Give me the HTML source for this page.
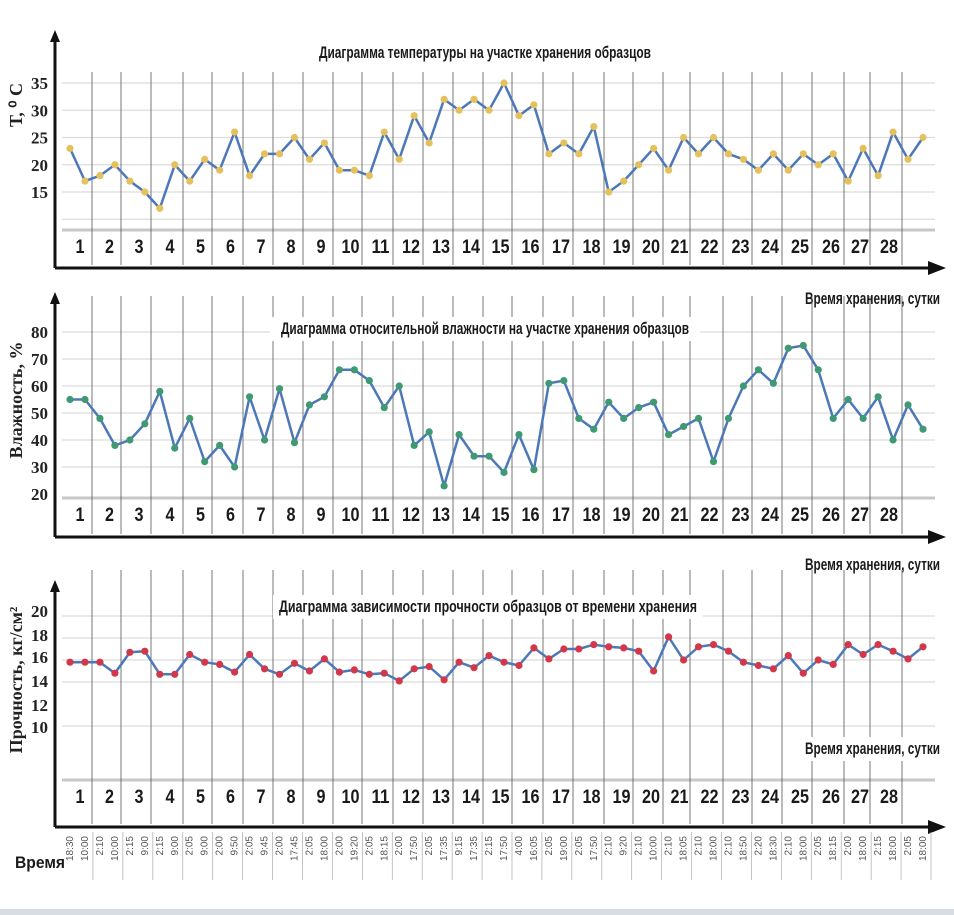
<!DOCTYPE html>
<html><head><meta charset="utf-8"><style>
html,body{margin:0;padding:0;background:#fff;}
svg{display:block;}
text{font-family:"Liberation Sans","DejaVu Sans",sans-serif;}
.tit{font-family:"Liberation Sans",sans-serif;font-weight:bold;font-size:17px;fill:#1a1a1a;}
.tick{font-family:"Liberation Serif",serif;font-weight:bold;font-size:17px;fill:#222;}
.day{font-family:"Liberation Sans",sans-serif;font-weight:bold;font-size:19px;fill:#1a1a1a;}
.ylab{font-family:"Liberation Serif",serif;font-weight:bold;font-size:18px;fill:#222;}
.tm{font-family:"Liberation Sans",sans-serif;font-size:10px;fill:#555;}
</style></head><body>
<svg id="c" width="954" height="915" viewBox="0 0 954 915" xmlns="http://www.w3.org/2000/svg">
<rect x="0" y="0" width="954" height="915" fill="#fff"/>
<rect x="0" y="909" width="954" height="6" fill="#d8dde3"/>
</svg>
<script>
const days = ["1","2","3","4","5","6","7","8","9","10","11","12","13","14","15","16","17","18","19","20","21","22","23","24","25","26","27","28"];
const temperature = [23,17,18,20,17,15,12,20,17,21,19,26,18,22,22,25,21,24,19,19,18,26,21,29,24,32,30,32,30,35,29,31,22,24,22,27,15,17,20,23,19,25,22,25,22,21,19,22,19,22,20,22,17,23,18,26,21,25];
const humidity = [55,55,48,38,40,46,58,37,48,32,38,30,56,40,59,39,53,56,66,66,62,52,60,38,43,23,42,34,34,28,42,29,61,62,48,44,54,48,52,54,42,45,48,32,48,60,66,61,74,75,66,48,55,48,56,40,53,44];
const strength = [15.8,15.8,15.8,14.8,16.7,16.8,14.7,14.7,16.5,15.8,15.6,14.9,16.5,15.2,14.7,15.7,15.0,16.1,14.9,15.1,14.7,14.8,14.1,15.2,15.4,14.2,15.8,15.3,16.4,15.8,15.5,17.1,16.1,17.0,17.0,17.4,17.2,17.1,16.8,15.0,18.1,16.0,17.2,17.4,16.8,15.8,15.5,15.2,16.4,14.8,16.0,15.6,17.4,16.5,17.4,16.8,16.1,17.2];
const times = ["18:30","10:00","2:10","10:00","2:15","9:00","2:15","9:00","2:05","9:00","2:00","9:50","2:05","9:45","2:00","17:45","2:05","18:00","2:00","19:20","2:05","18:15","2:00","17:50","2:05","17:35","9:15","17:35","2:15","17:50","4:00","16:05","2:05","19:00","2:05","17:50","2:10","9:20","2:10","10:00","2:10","18:05","2:10","18:00","2:10","18:50","2:20","18:30","2:10","18:00","2:05","18:15","2:00","18:00","2:15","18:00","2:05","18:00"];
const tempTicks = [35,30,25,20,15];
const humTicks = [80,70,60,50,40,30,20];
const strTicks = [20,18,16,14,12,10];

const svg = document.getElementById('c');
const NS = 'http://www.w3.org/2000/svg';
function mk(tag, attrs, parent){const e=document.createElementNS(NS,tag);for(const k in attrs)e.setAttribute(k,attrs[k]);(parent||svg).appendChild(e);return e;}
const dayB = [62,92,121,151,183,212,243,273,303,333,362,393,423,453,483,512,543,573,604,633,663,690,723,752,782,812,844,870,902];
const x0 = 70, x1 = 923;
function xs(i, n){return x0 + i*(x1-x0)/(n-1);}

function panel(cfg){
  const g = mk('g',{});
  
  
  cfg.grid.forEach(v=>{const l=mk('line',{x1:62,x2:935,y1:cfg.y(v),y2:cfg.y(v),stroke:'#dcdcdc','stroke-width':1.2},g);});
  const b=mk('line',{x1:62,x2:935,y1:cfg.band,y2:cfg.band,stroke:'#c8c8c8','stroke-width':3},g);
  dayB.slice(1).forEach(x=>{const l=mk('line',{x1:x,x2:x,y1:cfg.vTop,y2:cfg.axisY-3,stroke:'#555','stroke-width':0.8},g);});
  days.forEach((d,i)=>{const t=mk('text',{x:(dayB[i]+dayB[i+1])/2+3,y:cfg.band+23,'text-anchor':'middle',class:'day',textLength:d.length*9,lengthAdjust:'spacingAndGlyphs'},g);t.textContent=d;});
  cfg.ticks.forEach(v=>{const t=mk('text',{x:48,y:cfg.tickY(v)+6,'text-anchor':'end',class:'tick'},g);t.textContent=v;});
  const ya=mk('line',{x1:55,x2:55,y1:cfg.axTop+8,y2:cfg.axisY,stroke:'#111','stroke-width':3},g);
  const yh=mk('polygon',{points:`50,${cfg.axTop+12} 55,${cfg.axTop} 60,${cfg.axTop+12}`,fill:'#111'},g);
  const xa=mk('line',{x1:55,x2:935,y1:cfg.axisY,y2:cfg.axisY,stroke:'#111','stroke-width':3},g);
  const xh=mk('polygon',{points:`928,${cfg.axisY-7} 946,${cfg.axisY} 928,${cfg.axisY+7}`,fill:'#111'},g);
  if(cfg.titleBg){mk('rect',{x:cfg.titleX-215,y:cfg.titleY-17,width:430,height:24,fill:'#fff'},g);}
  const tt=mk('text',{x:cfg.titleX,y:cfg.titleY,'text-anchor':'middle',class:'tit',textLength:cfg.titleLen,lengthAdjust:'spacingAndGlyphs'},g);tt.textContent=cfg.title;
  const yl=mk('text',{x:0,y:0,'text-anchor':'middle',class:'ylab',transform:`translate(22,${cfg.ylabY}) rotate(-90)`},g);yl.textContent=cfg.ylab;
  const d=cfg.data;
  const pts=d.map((v,i)=>xs(i,d.length).toFixed(1)+','+cfg.y(v).toFixed(1)).join(' ');
  const pl=mk('polyline',{points:pts,fill:'none',stroke:'#4d78b8','stroke-width':2.5,'stroke-linejoin':'round'},g);
  d.forEach((v,i)=>{const c=mk('circle',{cx:xs(i,d.length),cy:cfg.y(v),r:3.6,fill:cfg.mc},g);});
  if(cfg.xcapY){if(cfg.capBg)mk('rect',{x:808,y:cfg.xcapY-17,width:140,height:24,fill:'#fff'},g);
    const xc=mk('text',{x:940,y:cfg.xcapY,'text-anchor':'end',class:'tit',textLength:135,lengthAdjust:'spacingAndGlyphs'},g);xc.textContent='Время хранения, сутки';}
}
panel({name:'temperature-chart',y:v=>83+(35-v)*5.45,grid:[35,30,25,20,15,10],ticks:tempTicks,tickY:v=>83+(35-v)*5.45,band:230,vTop:72,axisY:268,axTop:30,
  title:'Диаграмма температуры на участке хранения образцов',titleX:485,titleY:58,titleLen:332,ylab:'Т, ⁰ С',ylabY:105,data:temperature,mc:'#e5c15e',xcapY:304});
panel({name:'humidity-chart',y:v=>332+(80-v)*2.7,grid:[80,70,60,50,40,30],ticks:humTicks,tickY:v=>332+(80-v)*2.7,band:498,vTop:296,axisY:537,axTop:292,
  title:'Диаграмма относительной влажности на участке хранения образцов',titleX:485,titleY:334,titleLen:408,titleBg:true,ylab:'Влажность, %',ylabY:400,data:humidity,mc:'#3f9a74',xcapY:570});
panel({name:'strength-chart',y:v=>660-(v-16)*11,grid:[20,18,16,14,10],ticks:strTicks,tickY:v=>[614,638,660,684,708,730][strTicks.indexOf(v)]-3,band:780,vTop:570,axisY:827,axTop:580,
  title:'Диаграмма зависимости прочности образцов от времени хранения',titleX:488,titleY:612,titleLen:418,titleBg:true,ylab:'Прочность, кг/см²',ylabY:680,data:strength,mc:'#d2384a',xcapY:754,capBg:true});
const tg=mk('g',{});


times.forEach((t,i)=>{const x=xs(i,times.length);
  const e=mk('text',{x:0,y:0,'text-anchor':'end',class:'tm',transform:`translate(${x+3},836) rotate(-90)`},tg);e.textContent=t;
  
  
  if(i%2==1){const l=mk('line',{x1:x+8,x2:x+8,y1:832,y2:880,stroke:'#aaa','stroke-width':0.7},tg);}
});
const vr=mk('text',{x:40,y:868,'text-anchor':'middle',class:'tit',textLength:50,lengthAdjust:'spacingAndGlyphs'},tg);vr.textContent='Время';


</script>
</body></html>
